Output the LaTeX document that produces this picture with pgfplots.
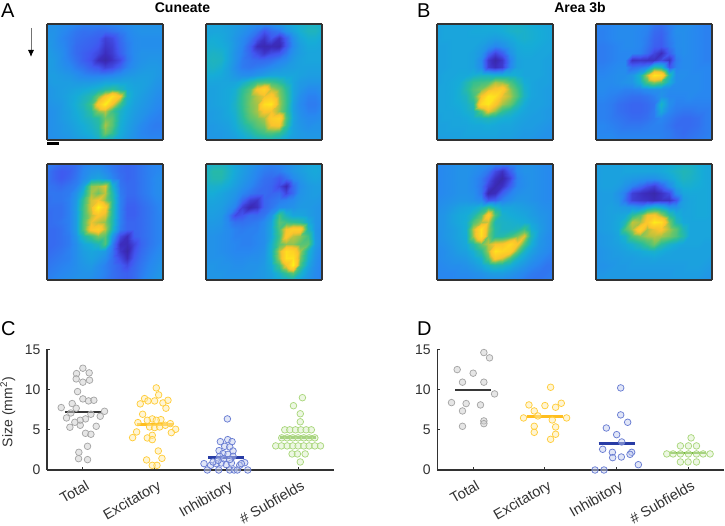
\documentclass[border=0pt]{standalone}
\usepackage{pgfplots}
\usepackage{pgfplotstable}
\usepackage{fontspec}
\usetikzlibrary{arrows.meta}
\setmainfont{Liberation Sans}
\pgfplotsset{compat=1.18}
\pgfplotstableset{row sep=crcr,header=false}
\pgfplotstableread{
28\\28\\27\\26\\25\\24\\24\\24\\24\\25\\26\\27\\28\\28\\28\\28\\28\\
28\\28\\26\\24\\22\\21\\21\\20\\20\\21\\23\\25\\27\\28\\28\\28\\28\\
29\\28\\25\\23\\21\\20\\19\\18\\12\\14\\20\\24\\26\\27\\27\\27\\27\\
30\\28\\26\\23\\20\\19\\18\\16\\10\\12\\19\\23\\26\\27\\27\\27\\27\\
31\\29\\27\\23\\20\\18\\16\\13\\8\\11\\18\\23\\26\\28\\28\\28\\28\\
31\\30\\27\\24\\21\\18\\15\\8\\5\\9\\14\\22\\26\\28\\29\\29\\28\\
31\\30\\28\\26\\23\\21\\18\\16\\12\\14\\19\\24\\27\\29\\30\\30\\29\\
31\\31\\30\\29\\27\\25\\24\\24\\24\\25\\27\\29\\30\\31\\31\\30\\29\\
30\\31\\31\\31\\30\\30\\30\\31\\33\\33\\33\\33\\32\\32\\31\\29\\28\\
29\\30\\31\\32\\33\\34\\36\\38\\42\\45\\40\\35\\33\\32\\30\\28\\27\\
29\\30\\31\\33\\35\\38\\42\\55\\72\\88\\70\\38\\33\\31\\29\\27\\26\\
28\\29\\30\\33\\36\\40\\48\\75\\95\\70\\48\\36\\32\\30\\28\\26\\25\\
27\\28\\30\\32\\35\\38\\44\\58\\62\\48\\38\\34\\31\\29\\27\\25\\24\\
27\\28\\30\\32\\34\\37\\40\\44\\55\\52\\37\\33\\30\\28\\25\\24\\24\\
27\\28\\29\\31\\33\\35\\38\\42\\60\\52\\36\\32\\29\\26\\24\\23\\23\\
27\\28\\29\\30\\32\\34\\36\\40\\55\\46\\35\\31\\28\\25\\24\\24\\24\\
27\\27\\28\\29\\30\\31\\33\\35\\37\\36\\33\\30\\28\\26\\25\\25\\25\\
}\tAa
\pgfplotstableread{
33\\33\\33\\32\\31\\30\\28\\26\\26\\27\\30\\33\\35\\37\\38\\38\\36\\
33\\33\\33\\32\\30\\28\\25\\22\\16\\20\\22\\28\\32\\36\\39\\39\\36\\
34\\35\\34\\32\\29\\26\\22\\16\\10\\16\\9\\18\\27\\33\\36\\36\\34\\
36\\36\\35\\33\\29\\25\\18\\8\\6\\7\\6\\17\\26\\31\\34\\34\\33\\
37\\38\\37\\33\\28\\24\\19\\14\\10\\14\\16\\22\\28\\31\\33\\33\\33\\
38\\39\\38\\33\\28\\23\\21\\20\\20\\21\\24\\26\\30\\32\\33\\33\\33\\
37\\38\\36\\32\\27\\23\\22\\23\\24\\26\\28\\30\\31\\32\\32\\32\\32\\
35\\35\\34\\32\\29\\27\\27\\29\\31\\33\\33\\33\\33\\32\\31\\31\\31\\
33\\33\\33\\33\\33\\36\\42\\48\\50\\48\\44\\38\\33\\30\\29\\29\\29\\
32\\32\\33\\34\\36\\44\\52\\72\\82\\62\\55\\44\\33\\29\\26\\26\\28\\
32\\32\\33\\34\\37\\46\\55\\62\\68\\75\\58\\46\\33\\27\\24\\24\\26\\
31\\32\\33\\34\\38\\46\\56\\60\\88\\92\\60\\47\\32\\26\\23\\23\\25\\
31\\31\\32\\34\\37\\45\\55\\60\\72\\70\\58\\46\\32\\27\\24\\24\\26\\
30\\31\\32\\33\\36\\43\\52\\56\\60\\76\\82\\50\\33\\28\\26\\26\\27\\
30\\30\\31\\32\\35\\40\\46\\52\\56\\70\\72\\46\\32\\29\\27\\28\\28\\
29\\30\\30\\31\\33\\36\\40\\45\\48\\50\\46\\38\\32\\30\\29\\29\\29\\
29\\29\\30\\30\\31\\33\\34\\36\\38\\38\\36\\33\\31\\30\\30\\30\\30\\
}\tAb
\pgfplotstableread{
23\\22\\20\\20\\21\\24\\26\\26\\24\\22\\20\\19\\20\\22\\24\\25\\25\\
22\\19\\17\\18\\21\\25\\28\\29\\26\\23\\20\\19\\20\\22\\24\\25\\26\\
22\\19\\17\\19\\22\\26\\31\\33\\30\\25\\21\\19\\20\\22\\24\\26\\27\\
22\\21\\20\\22\\24\\32\\58\\60\\66\\38\\22\\20\\20\\22\\24\\26\\27\\
22\\22\\22\\23\\28\\38\\60\\55\\62\\42\\23\\20\\20\\22\\24\\26\\27\\
21\\22\\22\\24\\30\\46\\65\\70\\58\\44\\24\\19\\19\\21\\23\\25\\26\\
21\\21\\21\\24\\31\\48\\66\\96\\75\\44\\24\\18\\18\\20\\22\\24\\26\\
20\\21\\21\\24\\31\\48\\62\\72\\66\\43\\24\\18\\18\\20\\22\\24\\25\\
20\\21\\22\\24\\31\\50\\68\\62\\58\\42\\24\\19\\19\\20\\22\\24\\25\\
20\\20\\21\\24\\31\\50\\74\\80\\62\\40\\23\\19\\19\\20\\22\\24\\25\\
20\\20\\21\\23\\29\\40\\48\\56\\52\\30\\14\\8\\18\\20\\22\\24\\25\\
20\\20\\21\\23\\27\\33\\36\\40\\50\\24\\8\\7\\13\\19\\22\\24\\26\\
20\\21\\22\\24\\27\\31\\33\\32\\30\\22\\10\\5\\15\\20\\23\\25\\27\\
21\\22\\23\\24\\27\\30\\32\\30\\27\\21\\14\\8\\17\\21\\24\\26\\28\\
22\\23\\24\\25\\27\\29\\30\\27\\24\\21\\18\\14\\19\\22\\25\\27\\29\\
23\\24\\25\\26\\27\\28\\28\\26\\24\\21\\19\\18\\20\\23\\26\\28\\30\\
24\\25\\26\\27\\28\\28\\27\\25\\23\\21\\19\\18\\20\\24\\27\\29\\31\\
}\tAc
\pgfplotstableread{
36\\38\\38\\36\\33\\31\\29\\27\\25\\24\\25\\27\\29\\31\\33\\34\\33\\
38\\42\\42\\38\\34\\31\\28\\25\\23\\22\\23\\26\\29\\31\\33\\34\\33\\
38\\41\\41\\37\\33\\30\\27\\24\\21\\20\\17\\21\\26\\29\\32\\33\\32\\
36\\37\\36\\34\\31\\28\\25\\22\\20\\19\\14\\7\\20\\27\\30\\31\\31\\
35\\35\\33\\31\\29\\25\\22\\20\\20\\19\\20\\13\\20\\28\\30\\31\\30\\
33\\33\\32\\30\\27\\20\\12\\10\\19\\21\\23\\24\\26\\29\\30\\30\\29\\
32\\32\\31\\28\\24\\12\\6\\9\\19\\22\\26\\27\\28\\30\\30\\29\\28\\
31\\31\\30\\24\\14\\16\\20\\20\\22\\28\\48\\38\\33\\33\\31\\29\\28\\
30\\30\\29\\25\\21\\21\\22\\23\\26\\32\\52\\48\\46\\44\\35\\29\\27\\
29\\29\\28\\26\\24\\23\\24\\24\\27\\33\\50\\70\\78\\78\\40\\29\\26\\
28\\28\\27\\26\\24\\24\\24\\25\\27\\33\\48\\74\\62\\58\\48\\30\\26\\
28\\28\\27\\26\\25\\24\\24\\25\\27\\36\\52\\58\\58\\52\\52\\31\\26\\
28\\28\\27\\26\\25\\25\\25\\26\\28\\37\\62\\88\\82\\60\\38\\29\\25\\
28\\28\\28\\27\\26\\26\\27\\27\\29\\36\\60\\90\\90\\56\\36\\28\\24\\
29\\29\\28\\28\\27\\27\\28\\28\\30\\34\\48\\70\\96\\50\\33\\27\\24\\
29\\29\\29\\28\\28\\28\\28\\29\\30\\32\\38\\46\\52\\38\\30\\26\\24\\
29\\29\\29\\29\\29\\29\\29\\29\\30\\31\\33\\35\\36\\33\\29\\26\\24\\
}\tAd
\pgfplotstableread{
32\\33\\33\\33\\33\\33\\34\\35\\35\\36\\37\\37\\36\\35\\34\\33\\33\\
32\\33\\33\\33\\33\\34\\34\\34\\34\\35\\37\\38\\37\\36\\35\\34\\33\\
32\\33\\33\\33\\33\\33\\33\\32\\31\\32\\34\\36\\37\\36\\35\\34\\33\\
32\\32\\33\\33\\33\\33\\31\\28\\25\\27\\31\\34\\35\\35\\34\\33\\33\\
32\\32\\33\\33\\33\\32\\29\\20\\13\\18\\28\\33\\34\\34\\33\\33\\32\\
32\\32\\33\\33\\33\\32\\26\\11\\5\\10\\24\\32\\33\\33\\33\\32\\32\\
32\\32\\33\\33\\33\\32\\27\\12\\8\\11\\25\\32\\33\\33\\33\\32\\31\\
32\\33\\33\\34\\34\\36\\38\\38\\36\\36\\36\\35\\33\\33\\33\\32\\31\\
32\\33\\34\\35\\40\\46\\48\\50\\60\\58\\50\\42\\35\\33\\32\\32\\31\\
33\\33\\34\\36\\42\\50\\56\\65\\72\\76\\58\\48\\37\\33\\32\\31\\31\\
33\\33\\34\\36\\39\\48\\70\\92\\88\\68\\60\\50\\38\\33\\32\\31\\30\\
33\\33\\34\\35\\37\\42\\85\\92\\72\\60\\54\\42\\35\\32\\32\\31\\30\\
33\\33\\33\\34\\36\\38\\52\\68\\58\\46\\40\\36\\33\\32\\31\\30\\30\\
32\\33\\33\\33\\34\\36\\38\\40\\38\\36\\35\\33\\32\\31\\31\\30\\29\\
32\\32\\33\\33\\33\\34\\34\\35\\34\\33\\33\\32\\31\\31\\30\\29\\28\\
32\\32\\32\\32\\33\\33\\33\\33\\33\\32\\32\\31\\30\\30\\29\\28\\28\\
31\\31\\32\\32\\32\\32\\32\\32\\32\\31\\31\\30\\30\\29\\28\\28\\28\\
}\tBa
\pgfplotstableread{
24\\25\\25\\26\\26\\26\\26\\25\\22\\21\\24\\26\\27\\27\\25\\24\\24\\
24\\24\\25\\26\\26\\26\\25\\24\\20\\19\\23\\27\\27\\26\\25\\24\\24\\
24\\24\\25\\26\\26\\26\\25\\23\\19\\18\\23\\26\\27\\26\\25\\24\\24\\
23\\23\\24\\25\\26\\26\\25\\22\\18\\17\\22\\26\\27\\26\\25\\24\\24\\
23\\23\\24\\25\\25\\25\\24\\20\\13\\8\\18\\25\\27\\26\\25\\24\\24\\
23\\23\\24\\25\\25\\9\\10\\9\\9\\14\\9\\23\\26\\26\\25\\24\\24\\
24\\24\\25\\26\\26\\20\\22\\25\\42\\40\\16\\24\\26\\26\\25\\25\\25\\
25\\25\\26\\27\\27\\29\\38\\62\\92\\86\\42\\27\\27\\26\\26\\25\\25\\
26\\26\\26\\27\\28\\29\\36\\50\\58\\52\\36\\27\\26\\26\\26\\25\\25\\
26\\26\\25\\25\\24\\24\\25\\27\\28\\28\\26\\26\\26\\26\\26\\25\\25\\
25\\25\\24\\23\\22\\21\\21\\22\\24\\28\\25\\25\\25\\26\\25\\25\\25\\
24\\24\\23\\21\\20\\19\\19\\20\\22\\38\\27\\24\\24\\24\\24\\24\\24\\
24\\24\\23\\21\\20\\19\\19\\20\\23\\34\\25\\23\\22\\22\\23\\23\\24\\
24\\24\\23\\22\\21\\20\\20\\21\\23\\25\\23\\21\\20\\20\\21\\23\\24\\
25\\25\\24\\23\\22\\22\\22\\23\\24\\24\\22\\20\\20\\20\\21\\23\\24\\
25\\25\\25\\24\\24\\24\\24\\24\\24\\24\\23\\21\\20\\21\\22\\23\\24\\
26\\26\\26\\25\\25\\25\\25\\25\\25\\24\\23\\22\\21\\22\\23\\24\\25\\
}\tBb
\pgfplotstableread{
25\\26\\27\\28\\28\\28\\27\\26\\24\\24\\25\\27\\28\\28\\27\\26\\26\\
25\\26\\27\\28\\28\\27\\25\\22\\14\\9\\18\\26\\28\\28\\27\\26\\25\\
25\\26\\27\\28\\28\\26\\23\\17\\9\\5\\13\\24\\27\\28\\27\\26\\25\\
25\\26\\27\\28\\28\\26\\22\\12\\6\\9\\18\\25\\27\\28\\27\\26\\25\\
25\\26\\27\\28\\28\\27\\22\\6\\8\\18\\24\\27\\28\\28\\27\\26\\25\\
26\\27\\28\\29\\29\\28\\26\\16\\18\\24\\27\\29\\29\\28\\27\\26\\26\\
27\\28\\30\\32\\33\\34\\38\\45\\38\\33\\33\\32\\31\\30\\28\\27\\26\\
28\\29\\32\\34\\35\\40\\52\\78\\50\\37\\35\\34\\33\\31\\29\\28\\26\\
28\\29\\32\\34\\36\\50\\60\\64\\40\\38\\37\\36\\35\\33\\30\\28\\26\\
28\\29\\31\\33\\36\\62\\90\\60\\42\\38\\38\\40\\48\\36\\31\\28\\26\\
27\\29\\31\\33\\35\\60\\88\\56\\42\\42\\48\\56\\66\\40\\30\\27\\25\\
27\\28\\30\\32\\34\\42\\54\\62\\70\\72\\85\\72\\50\\36\\29\\27\\25\\
26\\27\\29\\31\\32\\36\\44\\60\\90\\84\\78\\54\\38\\32\\28\\26\\24\\
26\\27\\28\\29\\30\\33\\37\\52\\74\\66\\50\\38\\33\\29\\26\\24\\23\\
25\\26\\27\\27\\28\\30\\33\\38\\42\\40\\36\\32\\29\\26\\24\\22\\22\\
25\\25\\25\\26\\26\\27\\28\\30\\31\\31\\29\\27\\25\\23\\22\\22\\23\\
25\\25\\25\\25\\25\\26\\26\\27\\27\\27\\26\\25\\23\\22\\22\\23\\25\\
}\tBc
\pgfplotstableread{
31\\32\\32\\32\\33\\33\\33\\33\\33\\34\\35\\36\\37\\37\\35\\34\\33\\
31\\32\\32\\32\\33\\33\\33\\33\\33\\34\\36\\38\\40\\39\\36\\34\\33\\
31\\32\\32\\32\\31\\30\\29\\28\\28\\30\\33\\36\\39\\38\\36\\34\\33\\
31\\32\\32\\31\\28\\24\\20\\15\\12\\18\\26\\33\\36\\36\\35\\34\\33\\
30\\31\\31\\28\\23\\12\\9\\7\\5\\9\\14\\27\\33\\34\\34\\34\\33\\
30\\31\\31\\29\\21\\12\\10\\9\\7\\9\\9\\16\\31\\33\\34\\34\\33\\
30\\31\\32\\31\\30\\29\\27\\33\\38\\35\\28\\28\\32\\33\\34\\34\\33\\
30\\31\\32\\33\\34\\44\\52\\68\\72\\60\\44\\36\\33\\33\\34\\34\\33\\
30\\31\\32\\34\\40\\62\\60\\74\\94\\88\\56\\40\\34\\33\\33\\33\\33\\
30\\31\\32\\34\\50\\60\\80\\60\\68\\72\\60\\52\\40\\33\\33\\33\\33\\
29\\30\\31\\33\\38\\50\\56\\60\\62\\60\\56\\50\\42\\33\\33\\33\\33\\
29\\30\\31\\32\\34\\37\\42\\48\\55\\44\\38\\35\\33\\33\\33\\32\\32\\
28\\29\\30\\31\\32\\33\\34\\36\\37\\35\\33\\32\\32\\32\\32\\32\\32\\
28\\29\\30\\30\\31\\31\\32\\32\\33\\32\\32\\32\\32\\32\\32\\32\\31\\
28\\28\\29\\30\\30\\31\\31\\31\\31\\31\\31\\31\\31\\32\\32\\31\\30\\
29\\29\\30\\30\\30\\30\\30\\30\\30\\30\\30\\31\\31\\31\\31\\30\\29\\
30\\30\\30\\30\\30\\30\\30\\30\\30\\30\\30\\30\\31\\31\\30\\29\\27\\
}\tBd
\definecolor{cgrayE}{RGB}{166,166,166}\definecolor{cgrayF}{RGB}{205,205,205}\definecolor{cgrayL}{RGB}{55,55,55}
\definecolor{cyelE}{RGB}{255,205,60}\definecolor{cyelF}{RGB}{255,235,170}\definecolor{cyelL}{RGB}{255,190,30}
\definecolor{cbluE}{RGB}{105,125,210}\definecolor{cbluF}{RGB}{195,205,240}\definecolor{cbluL}{RGB}{40,60,165}
\definecolor{cgrnE}{RGB}{170,215,125}\definecolor{cgrnF}{RGB}{220,240,200}\definecolor{cgrnL}{RGB}{115,180,60}
\definecolor{axc}{RGB}{50,50,50}
\pgfplotsset{
 colormap={par}{rgb255(0)=(52,36,140) rgb255(8)=(60,45,190) rgb255(16)=(65,85,240) rgb255(25)=(40,135,240) rgb255(35)=(22,172,215) rgb255(45)=(45,190,150) rgb255(55)=(110,197,100) rgb255(62)=(190,195,60) rgb255(70)=(250,195,45) rgb255(85)=(254,215,35) rgb255(100)=(250,250,20)},
 heat/.style={at={(#1)},anchor=south west,width=116pt,height=116pt,scale only axis,view={0}{90},
  xmin=0,xmax=16,ymin=0,ymax=16,y dir=reverse,ticks=none,axis line style={draw=axc,line width=1.1pt},
  point meta min=0,point meta max=100,colormap name=par,axis on top},
 pts/.style n args={2}{only marks,mark=*,mark size=3.3pt,mark options={draw=#1,fill=#2,fill opacity=0.5,line width=0.75pt}},
 sc/.style={at={(#1)},anchor=south west,width=287pt,height=120.5pt,scale only axis,
  xmin=0.5,xmax=4.5,ymin=0,ymax=15,axis lines=left,axis line style={-,draw=axc,line width=1.1pt},
  tick style={draw=axc,line width=0.9pt},tick align=inside,major tick length=3pt,
  xtick={1,2,3,4},xticklabels={Total,Excitatory,Inhibitory,\# Subfields},ytick={0,5,10,15},
  /pgf/number format/assume math mode=true,
  tick label style={font=\fontsize{14}{14}\selectfont,text=axc},
  xticklabel style={font=\fontsize{14.5}{14.5}\selectfont,rotate=30,anchor=north east,xshift=0.6pt,yshift=-5.7pt},
  yticklabel style={xshift=-3pt},
  clip=false,axis on top=false},
}
\newcommand{\heatplot}[1]{\addplot3[surf,shader=interp,mesh/cols=17,point meta=z] table[x index=0,y index=0,z index=0,x expr={floor(mod(\coordindex+0.5,17))},y expr={floor((\coordindex+0.5)/17)}] {#1};}
\newcommand{\meanline}[3]{\addplot[draw=#3,line width=2.4pt,forget plot] coordinates {(#1-0.25,#2)(#1+0.25,#2)};}
\begin{document}
\begin{tikzpicture}
\path[use as bounding box] (0,0) rectangle (725pt,526pt);
\begin{axis}[heat={47pt,386pt}]\heatplot{\tAa}\end{axis}
\begin{axis}[heat={206pt,386pt}]\heatplot{\tAb}\end{axis}
\begin{axis}[heat={47pt,246pt}]\heatplot{\tAc}\end{axis}
\begin{axis}[heat={206pt,246pt}]\heatplot{\tAd}\end{axis}
\begin{axis}[heat={437pt,386pt}]\heatplot{\tBa}\end{axis}
\begin{axis}[heat={596pt,386pt}]\heatplot{\tBb}\end{axis}
\begin{axis}[heat={437pt,246pt}]\heatplot{\tBc}\end{axis}
\begin{axis}[heat={596pt,246pt}]\heatplot{\tBd}\end{axis}
\begin{axis}[sc={47pt,56pt},ylabel={Size (mm\textsuperscript{2})},ylabel style={font=\fontsize{14}{14}\selectfont,text=axc,at={(axis description cs:-0.098,0.48)},anchor=south}]
\addplot[pts={cgrayE}{cgrayF}] coordinates {(1.000,12.67)(.912,12.0)(1.088,12.09)(.907,11.34)(1.0,10.93)(1.093,11.18)(.926,9.76)(1.0,8.85)(1.079,8.6)(1.153,8.68)(.851,8.27)(.698,7.77)(.907,7.69)(.833,7.1)(1.302,7.31)(.772,6.48)(1.242,6.69)(1.112,6.94)(1.037,6.36)(.963,6.19)(.888,5.94)(.963,5.57)(.819,5.32)(1.186,5.44)(1.037,4.57)(1.112,4.45)(1.065,2.95)(.944,2.2)(.940,1.41)(1.065,1.29)};
\addplot[pts={cyelE}{cyelF}] coordinates {(2.023,10.22)(2.056,9.35)(1.86,8.89)(1.907,8.6)(2.0,8.6)(1.8,8.23)(2.116,8.35)(2.186,8.68)(2.158,7.69)(1.833,6.94)(1.967,6.36)(2.088,6.27)(1.898,6.19)(2.023,6.19)(1.767,5.9)(1.93,5.36)(2.0,5.28)(2.07,5.36)(2.149,5.57)(2.219,5.77)(2.293,5.07)(2.233,4.65)(1.749,4.74)(1.693,4.03)(1.967,4.32)(1.898,3.99)(1.967,3.78)(2.051,2.37)(2.102,1.45)(1.888,1.25)(1.967,.58)(2.033,.58)};
\addplot[pts={cbluE}{cbluF}] coordinates {(3.014,6.36)(2.916,3.53)(3.019,3.78)(3.079,3.53)(2.977,2.95)(3.047,2.87)(2.898,2.41)(3.093,2.37)(2.953,2.04)(3.023,1.95)(2.907,1.7)(3.093,1.7)(2.688,.79)(2.781,.58)(2.86,.79)(2.93,.87)(3.0,.66)(3.07,.87)(3.186,.58)(3.256,.91)(3.209,.79)(2.735,0)(2.893,0)(3.047,0)(3.107,0)(3.153,0)(3.298,0)(2.814,1.0)(2.963,1.4)(3.047,1.3)(2.884,1.2)};
\addplot[pts={cgrnE}{cgrnF}] coordinates {(4.06,9)(3.935,8)(4.03,7)(4.03,6)(3.814,5)(3.884,5)(3.963,5)(4.037,5)(4.112,5)(4.184,5)(3.772,4)(3.847,4)(3.926,4)(4.0,4)(4.079,4)(4.153,4)(4.233,4)(3.688,3)(3.767,3)(3.847,3)(3.926,3)(4,3)(4.079,3)(4.153,3)(4.233,3)(4.312,3)(3.916,2)(3.99,2)(4.098,2)(4.03,1)};
\meanline{1}{7.2}{cgrayL}\meanline{2}{5.65}{cyelL}\meanline{3}{1.54}{cbluL}\meanline{4}{4.03}{cgrnL}
\end{axis}
\begin{axis}[sc={437.3pt,56pt}]
\addplot[pts={cgrayE}{cgrayF}] coordinates {(1.149,14.62)(1.228,13.96)(.777,12.5)(1.0,12.05)(.851,10.93)(1.149,10.93)(1.298,9.47)(.698,8.39)(.902,8.27)(1.102,8.1)(.851,7.35)(1.149,6.11)(1.149,5.77)(.851,5.44)};
\addplot[pts={cyelE}{cyelF}] coordinates {(2.079,10.3)(1.777,8.1)(2,8.02)(2.149,7.81)(2.228,8.31)(1.851,7.35)(1.902,6.73)(1.702,6.48)(2.302,6.48)(2.102,6.23)(1.851,5.44)(2.149,5.36)(1.851,4.69)(2.149,4.45)(2.079,3.82)};
\addplot[pts={cbluE}{cbluF}] coordinates {(3.056,10.22)(3.056,6.86)(3.153,5.94)(2.856,5.23)(3,4.4)(3.07,3.49)(2.805,2.58)(2.94,2.2)(3.209,2.2)(3.186,1.95)(2.944,1.54)(3.065,1.62)(3.302,.66)(2.698,0)(2.823,0)};
\addplot[pts={cgrnE}{cgrnF}] coordinates {(4.037,4)(3.888,3)(4,3)(4.112,3)(3.698,2)(3.786,2)(3.888,2)(4,2)(4.112,2)(4.205,2)(4.302,2)(3.888,1)(3.995,1)(4.112,1)};
\meanline{1}{9.93}{cgrayL}\meanline{2}{6.65}{cyelL}\meanline{3}{3.28}{cbluL}\meanline{4}{2.08}{cgrnL}
\end{axis}
\node[font=\fontsize{20}{20}\selectfont,anchor=base west,inner sep=0] at (1pt,508pt) {A};
\node[font=\fontsize{20}{20}\selectfont,anchor=base west,inner sep=0] at (417pt,508pt) {B};
\node[font=\fontsize{20}{20}\selectfont,anchor=base west,inner sep=0] at (1pt,190pt) {C};
\node[font=\fontsize{20}{20}\selectfont,anchor=base west,inner sep=0] at (417pt,190pt) {D};
\node[font=\bfseries\fontsize{14}{14}\selectfont,anchor=base,inner sep=0] at (182.5pt,513pt) {Cuneate};
\node[font=\bfseries\fontsize{14}{14}\selectfont,anchor=base,inner sep=0] at (580pt,513pt) {Area 3b};
\draw[-{Latex[length=7pt,width=6pt,black]},line width=0.9pt,draw=black!55] (31pt,498pt) -- (31pt,469pt);
\fill[black] (47pt,380.5pt) rectangle (59pt,383.5pt);
\end{tikzpicture}
\end{document}
